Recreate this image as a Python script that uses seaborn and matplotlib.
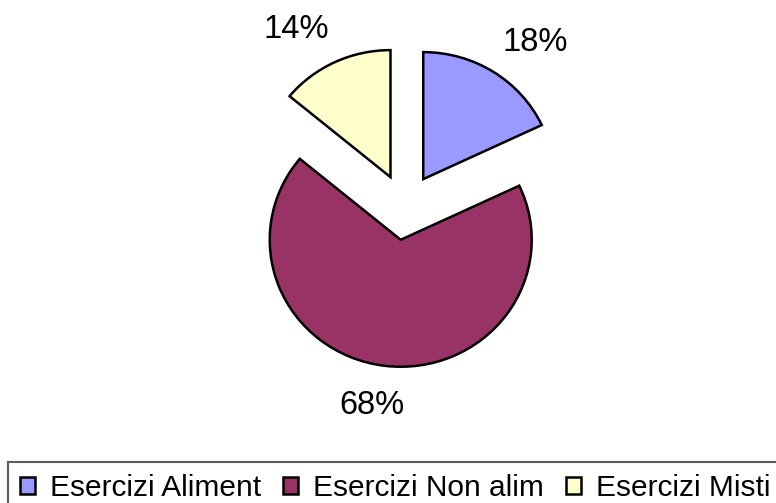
import matplotlib
matplotlib.use("Agg")
import numpy as np
import matplotlib.pyplot as plt
import seaborn as sns

categories = ["Esercizi Aliment", "Esercizi Non alim", "Esercizi Misti"]
shares = [18, 68, 14]
colors = ["#9999FF", "#993366", "#FFFFCC"]

# label placement relative to each exploded wedge (layout only)
label_dist = [1.37, 1.32, 1.365]
label_turn = [-6.0, -2.5, 6.5]

sns.set_theme(style="white")
plt.rcParams["font.family"] = ["Liberation Sans", "DejaVu Sans"]
plt.rcParams["text.color"] = "black"

W, H = 776, 503
RX, RY = 131.0, 127.0  # pie radius in pixels (slightly wider than tall)
cx, cy = 405, 207      # pie centre in pixels (from top-left)

fig = plt.figure(figsize=(W / 100, H / 100), dpi=100)
ax = fig.add_axes([0, 0, 1, 1])

wedges, texts, autotexts = ax.pie(
    shares,
    colors=colors,
    startangle=90,
    counterclock=False,
    explode=[0.26] * len(shares),
    autopct="%1.0f%%",
    wedgeprops=dict(edgecolor="black", linewidth=1.8),
    textprops=dict(fontsize=23.5, color="black"),
)

for w, t, d, turn in zip(wedges, autotexts, label_dist, label_turn):
    mid = np.deg2rad((w.theta1 + w.theta2) / 2 + turn)
    x0, y0 = w.center
    t.set_position((x0 + d * np.cos(mid), y0 + d * np.sin(mid)))

ax.set_aspect("auto")
ax.set_xlim(-cx / RX, (W - cx) / RX)
ax.set_ylim(-(H - cy) / RY, cy / RY)
ax.axis("off")

leg = fig.legend(
    wedges,
    categories,
    loc="upper left",
    bbox_to_anchor=(8 / W, 1 - 462 / H),
    borderaxespad=0,
    ncol=3,
    fontsize=21.5,
    labelcolor="black",
    frameon=True,
    fancybox=False,
    edgecolor="#333333",
    handlelength=0.5,
    handleheight=0.5,
    handletextpad=0.5,
    columnspacing=0.75,
    borderpad=0.4,
)
leg.get_frame().set_linewidth(1.5)

fig.savefig("out.png", dpi=100)
plt.close(fig)
